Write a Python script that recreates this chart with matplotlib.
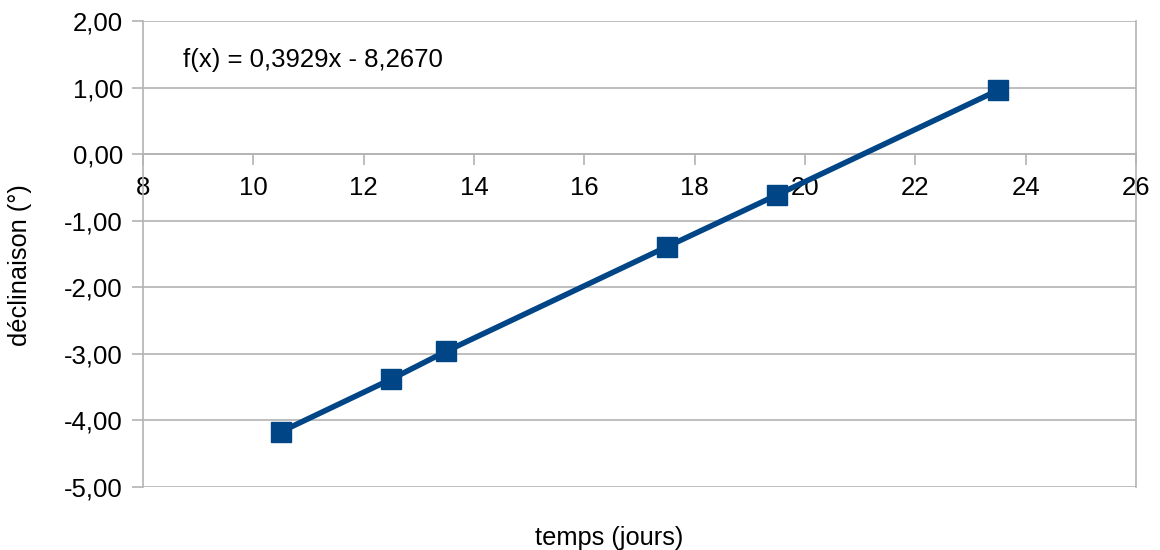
import matplotlib
matplotlib.use("Agg")
import matplotlib.pyplot as plt

temps = [10.5, 12.5, 13.5, 17.5, 19.5, 23.5]
declinaison = [-4.17, -3.38, -2.96, -1.39, -0.61, 0.96]
equation = "f(x) = 0,3929x - 8,2670"
xticks = [8, 10, 12, 14, 16, 18, 20, 22, 24, 26]
yticks = [-5, -4, -3, -2, -1, 0, 1, 2]

plt.rcParams['font.family'] = ['Liberation Sans', 'DejaVu Sans']
fig = plt.figure(figsize=(11.6, 5.5), dpi=100)
ax = fig.add_axes([143/1160, 1 - 487/550, (1136 - 143)/1160, (487 - 21)/550])

grey = '#b3b3b3'
ax.set_xlim(8, 26)
ax.set_ylim(-5, 2)
ax.set_xticks(xticks)
ax.set_yticks(yticks)
ax.set_yticklabels([f"{v:.2f}".replace('.', ',') for v in yticks])
ax.set_xticklabels([str(v) for v in xticks])
ax.yaxis.grid(True, color=grey, linewidth=1.2)
ax.set_axisbelow(True)

for s in ['left', 'right']:
    ax.spines[s].set_color(grey)
    ax.spines[s].set_linewidth(1.2)
ax.spines['top'].set_visible(False)
ax.spines['bottom'].set_position(('data', 0))
ax.spines['bottom'].set_color(grey)
ax.spines['bottom'].set_linewidth(1.2)

ax.tick_params(axis='both', colors=grey, labelcolor='black', labelsize=18.5,
               direction='out', length=8, width=1.2)
ax.tick_params(axis='x', pad=8)
ax.tick_params(axis='y', pad=6.5)

ax.plot(temps, declinaison, color='#004586', linewidth=4, marker='s',
        markersize=13.7, zorder=3)

ax.text(8.72, 1.42, equation, fontsize=18.5, ha='left', va='center')

fig.text(609/1160, 1 - 538/550, 'temps (jours)', fontsize=18.3, ha='center', va='center')
fig.text(20/1160, 1 - 265/550, 'déclinaison (°)', fontsize=18.3, ha='center', va='center', rotation=90)

fig.savefig('out.png', dpi=100)
